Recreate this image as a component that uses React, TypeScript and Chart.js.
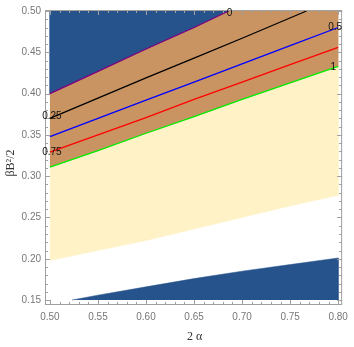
import React, { useEffect, useRef } from 'react';
import { Chart, registerables } from 'chart.js';

Chart.register(...registerables);

// Tick labels
const xTicks = [0.5, 0.55, 0.6, 0.65, 0.7, 0.75, 0.8];
const yTicks = [0.15, 0.2, 0.25, 0.3, 0.35, 0.4, 0.45, 0.5];

// Contour lines (level values)
const contourLevels = ['0', '0.25', '0.5', '0.75', '1'];
const level0X = [0.5, 0.55, 0.6, 0.65, 0.686];
const level0Y = [0.4, 0.427, 0.454, 0.48, 0.5];
const level025X = [0.5, 0.55, 0.6, 0.65, 0.7, 0.767];
const level025Y = [0.37, 0.3945, 0.419, 0.443, 0.467, 0.5];
const level05X = [0.5, 0.55, 0.6, 0.65, 0.7, 0.75, 0.8];
const level05Y = [0.348, 0.37, 0.392, 0.414, 0.436, 0.458, 0.48];
const level075X = [0.5, 0.55, 0.6, 0.65, 0.7, 0.75, 0.8];
const level075Y = [0.329, 0.35, 0.371, 0.393, 0.414, 0.435, 0.456];
const level1X = [0.5, 0.55, 0.6, 0.65, 0.7, 0.75, 0.8];
const level1Y = [0.311, 0.331, 0.352, 0.372, 0.393, 0.413, 0.433];

// Lower edge of the light region
const lightLowX = [0.5, 0.55, 0.6, 0.65, 0.7, 0.75, 0.8];
const lightLowY = [0.198, 0.21, 0.222, 0.236, 0.25, 0.264, 0.277];

// Upper edge of the lower dark region
const darkLowX = [0.523, 0.55, 0.6, 0.65, 0.7, 0.75, 0.8];
const darkLowY = [0.15, 0.156, 0.166, 0.176, 0.185, 0.193, 0.201];

// Domain of the plotted region
const domainX = [0.5, 0.8];
const domainY = [0.15, 0.5];

const COL_DARK = 'rgb(38,83,139)';
const COL_BROWN = 'rgb(201,148,98)';
const COL_LIGHT = 'rgb(255,242,199)';

const pts = (xs: number[], ys: number[]) => xs.map((x, i) => ({ x, y: ys[i] }));

const framePlugin = {
  id: 'frame',
  afterDraw(chart: any) {
    const { ctx, chartArea: a, scales } = chart;
    const xs = scales.x;
    const ys = scales.y;
    ctx.save();
    ctx.strokeStyle = '#a0a0a0';
    ctx.lineWidth = 1;
    ctx.strokeRect(a.left + 0.5, a.top + 0.5, a.right - a.left - 1, a.bottom - a.top - 1);
    ctx.beginPath();
    const nx = Math.round((domainX[1] - domainX[0]) / 0.01);
    for (let i = 0; i <= nx; i++) {
      const v = domainX[0] + i * 0.01;
      const len = i % 5 === 0 ? 5 : 3;
      const px = Math.round(xs.getPixelForValue(v)) + 0.5;
      ctx.moveTo(px, a.bottom);
      ctx.lineTo(px, a.bottom - len);
      ctx.moveTo(px, a.top);
      ctx.lineTo(px, a.top + len);
    }
    const ny = Math.round((domainY[1] - domainY[0]) / 0.01);
    for (let i = 0; i <= ny; i++) {
      const v = domainY[0] + i * 0.01;
      const len = i % 5 === 0 ? 5 : 3;
      const py = Math.round(ys.getPixelForValue(v)) + 0.5;
      ctx.moveTo(a.left, py);
      ctx.lineTo(a.left + len, py);
      ctx.moveTo(a.right, py);
      ctx.lineTo(a.right - len, py);
    }
    ctx.stroke();

    // contour labels
    ctx.fillStyle = '#111';
    ctx.font = '10px "Liberation Sans", Arial, sans-serif';
    ctx.textAlign = 'center';
    ctx.textBaseline = 'middle';
    const anchors = [
      { x: level0X[level0X.length - 1], y: level0Y[level0Y.length - 1], dx: 1, dy: 2 },
      { x: level025X[0], y: level025Y[0], dx: 2, dy: -2 },
      { x: level05X[level05X.length - 1], y: level05Y[level05Y.length - 1], dx: -3, dy: 0 },
      { x: level075X[0], y: level075Y[0], dx: 2, dy: 0 },
      { x: level1X[level1X.length - 1], y: level1Y[level1Y.length - 1], dx: -5, dy: 1 },
    ];
    anchors.forEach((p, i) => {
      ctx.fillText(contourLevels[i], xs.getPixelForValue(p.x) + p.dx, ys.getPixelForValue(p.y) + p.dy);
    });

    // axis titles
    ctx.fillStyle = '#333';
    ctx.font = '12px "Liberation Serif", "Times New Roman", serif';
    ctx.textAlign = 'center';
    ctx.textBaseline = 'middle';
    ctx.fillText('2 α', (a.left + a.right) / 2 + 1, 337);
    ctx.save();
    ctx.translate(11, 163);
    ctx.rotate(-Math.PI / 2);
    ctx.fillText('βB²/2', 0, 0);
    ctx.restore();
    ctx.restore();
  },
};

export default function App() {
  const ref = useRef<HTMLCanvasElement>(null);
  useEffect(() => {
    if (!ref.current) return;
    const topDark = [
      { x: domainX[0], y: domainY[1] },
      ...pts(level0X, level0Y),
    ];
    const brown = [
      ...pts(level1X, level1Y),
      { x: domainX[1], y: domainY[1] },
      ...pts(level0X, level0Y).reverse(),
    ];
    const light = [
      ...pts(level1X, level1Y),
      ...pts(lightLowX, lightLowY).reverse(),
    ];
    const lowDark = [
      ...pts(darkLowX, darkLowY),
      { x: domainX[1], y: domainY[0] },
    ];
    const line = (data: any[], color: string) => ({
      data,
      showLine: true,
      borderColor: color,
      borderWidth: 1.3,
      pointRadius: 0,
      fill: false,
      tension: 0,
    });
    const region = (data: any[], color: string) => ({
      data,
      showLine: true,
      borderColor: color,
      backgroundColor: color,
      borderWidth: 0.5,
      pointRadius: 0,
      fill: 'shape',
      tension: 0,
    });
    const chart = new Chart(ref.current, {
      type: 'scatter',
      data: {
        datasets: [
          line(pts(level0X, level0Y), '#800080'),
          line(pts(level025X, level025Y), '#000000'),
          line(pts(level05X, level05Y), '#0000ff'),
          line(pts(level075X, level075Y), '#ff0000'),
          line(pts(level1X, level1Y), '#00ee00'),
          region(topDark, COL_DARK),
          region(brown, COL_BROWN),
          region(light, COL_LIGHT),
          region(lowDark, COL_DARK),
        ] as any,
      },
      options: {
        animation: false,
        responsive: false,
        events: [],
        layout: { padding: { top: 5, right: 7, left: 0, bottom: 0 } },
        plugins: { legend: { display: false }, tooltip: { enabled: false } },
        scales: {
          x: {
            type: 'linear',
            min: 0.49488,
            max: 0.8041,
            grid: { display: false, drawTicks: false },
            border: { display: false },
            afterBuildTicks: (s: any) => {
              s.ticks = xTicks.map((v) => ({ value: v }));
            },
            afterFit: (s: any) => {
              s.height = 42;
            },
            ticks: {
              autoSkip: false,
              maxRotation: 0,
              padding: 6,
              color: '#777',
              font: { family: '"Liberation Sans", Arial, sans-serif', size: 10 },
              callback: (v: any) => Number(v).toFixed(2),
            },
          },
          y: {
            type: 'linear',
            min: 0.14405,
            max: 0.5012,
            grid: { display: false, drawTicks: false },
            border: { display: false },
            afterBuildTicks: (s: any) => {
              s.ticks = yTicks.map((v) => ({ value: v }));
            },
            afterFit: (s: any) => {
              s.width = 45;
            },
            ticks: {
              autoSkip: false,
              padding: 4,
              color: '#777',
              font: { family: '"Liberation Sans", Arial, sans-serif', size: 10 },
              callback: (v: any) => Number(v).toFixed(2),
            },
          },
        },
      },
      plugins: [framePlugin],
    });
    return () => chart.destroy();
  }, []);
  return (
    <div style={{ position: 'fixed', left: 0, top: 0, width: 354, height: 347, background: '#fff' }}>
      <canvas ref={ref} width={354} height={347} />
    </div>
  );
}
